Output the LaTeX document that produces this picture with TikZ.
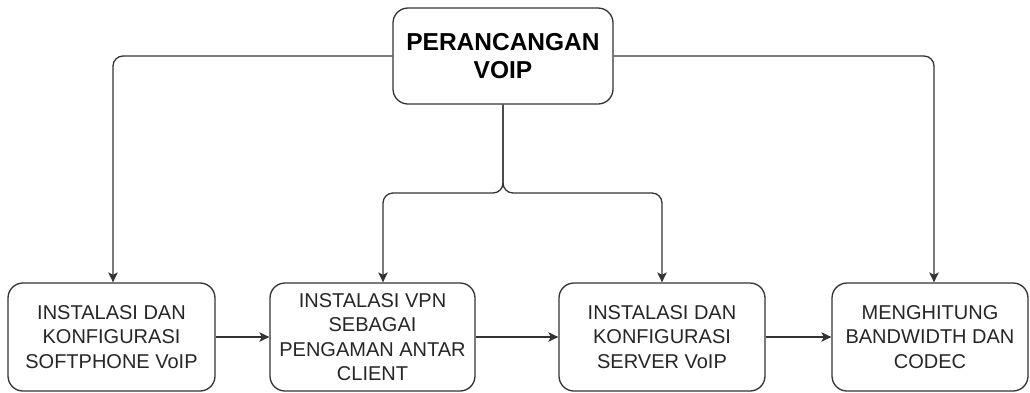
\documentclass[tikz,border=0pt]{standalone}
\usepackage{fontspec}
\setmainfont{Liberation Sans}
\usetikzlibrary{arrows.meta}
\definecolor{linegray}{HTML}{333333}
\definecolor{textgray}{HTML}{262626}
\begin{document}
\begin{tikzpicture}[x=1pt,y=-1pt,
  box/.style={draw=linegray, line width=1.3pt, rounded corners=15pt, fill=white,
    align=center, inner sep=0pt, text=textgray,
    font=\fontsize{20}{24.5}\selectfont},
  stepbox/.style={box, minimum height=108pt},
  tip/.style={-{Stealth[length=10pt,width=9.5pt,inset=2.5pt]}},
  conn/.style={draw=linegray, line width=1.3pt, rounded corners=10pt, tip},
  flow/.style={draw=linegray, line width=1.3pt, tip}]
\useasboundingbox (0,0) rectangle (1030,392);

% main heading
\node[box, minimum width=220pt, minimum height=96pt,
      font=\bfseries\fontsize{24.5}{28}\selectfont, text=black] (top) at (503,56)
  {PERANCANGAN\\VOIP};

% the four work steps
\node[stepbox, minimum width=207pt] (b1) at (111.5,337)
  {INSTALASI DAN\\KONFIGURASI\\SOFTPHONE VoIP};
\node[stepbox, minimum width=205pt] (b2) at (372.5,337)
  {INSTALASI VPN\\SEBAGAI\\PENGAMAN ANTAR\\CLIENT};
\node[stepbox, minimum width=206pt] (b3) at (662,337)
  {INSTALASI DAN\\KONFIGURASI\\SERVER VoIP};
\node[stepbox, minimum width=196pt] (b4) at (930,337)
  {MENGHITUNG\\BANDWIDTH DAN\\CODEC};

% split point of the central stem
\coordinate (sp) at (503,193);

% heading to steps
\draw[conn] (top.west) -| ([xshift=1.5pt]b1.north);
\draw[conn] (top.east) -| ([xshift=4pt]b4.north);
\draw[conn] (top.south) -- (sp) -| ([xshift=10.5pt]b2.north);
\draw[conn] (top.south) -- (sp) -| (b3.north);

% sequence between steps
\draw[flow] (b1.east) -- (b2.west);
\draw[flow] (b2.east) -- (b3.west);
\draw[flow] (b3.east) -- (b4.west);
\end{tikzpicture}
\end{document}
